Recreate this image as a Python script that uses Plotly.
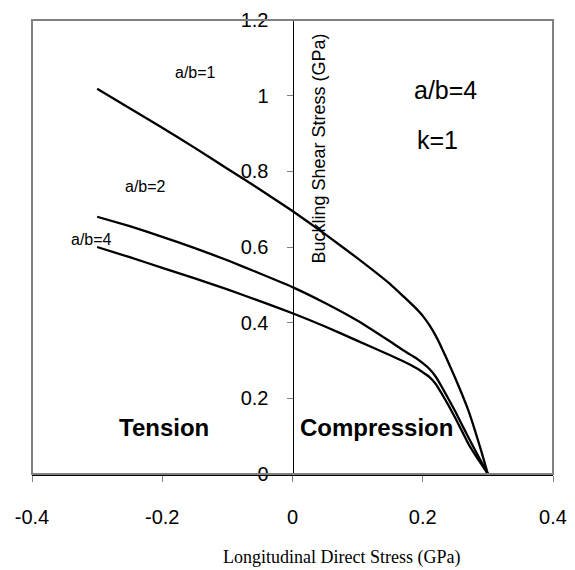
import plotly.graph_objects as go

stress_x = [-0.3, -0.25, -0.2, -0.15, -0.1, -0.05, 0.0, 0.05, 0.1, 0.15, 0.17, 0.19, 0.2, 0.21,
            0.22, 0.23, 0.24, 0.25, 0.26, 0.27, 0.28, 0.29, 0.3]
ab1 = [1.018, 0.967, 0.915, 0.862, 0.807, 0.752, 0.695, 0.634, 0.57, 0.502, 0.47, 0.437, 0.418, 0.394,
       0.365, 0.33, 0.292, 0.253, 0.212, 0.168, 0.116, 0.06, 0.0]
ab2 = [0.68, 0.655, 0.627, 0.597, 0.565, 0.53, 0.494, 0.452, 0.405, 0.35, 0.327, 0.306, 0.293, 0.278,
       0.257, 0.228, 0.197, 0.165, 0.131, 0.097, 0.064, 0.032, 0.0]
ab4 = [0.6, 0.573, 0.545, 0.517, 0.488, 0.457, 0.425, 0.39, 0.352, 0.314, 0.298, 0.28, 0.269, 0.257,
       0.238, 0.21, 0.18, 0.148, 0.114, 0.08, 0.052, 0.026, 0.0]

x_ticks = [-0.4, -0.2, 0, 0.2, 0.4]
x_tick_text = ["-0.4", "-0.2", "0", "0.2", "0.4"]
y_ticks = [0, 0.2, 0.4, 0.6, 0.8, 1.0, 1.2]
y_tick_text = ["0", "0.2", "0.4", "0.6", "0.8", "1", "1.2"]

SANS = "Liberation Sans, Arial, sans-serif"
SERIF = "Liberation Serif, Times New Roman, serif"

fig = go.Figure()
for ys in (ab1, ab2, ab4):
    fig.add_trace(go.Scatter(x=stress_x, y=ys, mode="lines",
                             line=dict(color="black", width=2.3, shape="spline", smoothing=0.4),
                             showlegend=False, hoverinfo="skip"))

annots = [
    dict(x=-0.149, y=1.06, text="a/b=1", size=16),
    dict(x=-0.226, y=0.761, text="a/b=2", size=16),
    dict(x=-0.308, y=0.621, text="a/b=4", size=16),
    dict(x=0.235, y=1.015, text="a/b=4", size=25),
    dict(x=0.223, y=0.883, text="k=1", size=25),
    dict(x=-0.198, y=0.124, text="<b>Tension</b>", size=24),
    dict(x=0.129, y=0.124, text="<b>Compression</b>", size=24),
]
for a in annots:
    fig.add_annotation(x=a["x"], y=a["y"], xref="x", yref="y", text=a["text"],
                       showarrow=False, font=dict(family=SANS, size=a["size"], color="black"),
                       xanchor="center", yanchor="middle")

fig.add_annotation(x=0.04, y=0.859, xref="x", yref="y", text="Buckling Shear Stress (GPa)",
                   textangle=-90, showarrow=False,
                   font=dict(family=SANS, size=18, color="black"),
                   xanchor="center", yanchor="middle")

fig.add_annotation(x=(341 - 32) / (553 - 32), y=-(557 - 474) / (474 - 20), xref="paper", yref="paper",
                   text="Longitudinal Direct Stress (GPa)", showarrow=False,
                   font=dict(family=SERIF, size=18, color="black"),
                   xanchor="center", yanchor="middle")

# plot frame
fig.add_shape(type="rect", xref="paper", yref="paper", x0=0, y0=0, x1=1, y1=1,
              line=dict(color="#808080", width=2), layer="above")

fig.update_layout(
    width=575, height=570,
    margin=dict(l=32, r=22, t=20, b=96),
    paper_bgcolor="white", plot_bgcolor="white",
    xaxis=dict(range=[-0.4, 0.4], tickvals=x_ticks, ticktext=x_tick_text,
               showgrid=False, zeroline=False, showline=True, linecolor="black", linewidth=2,
               ticks="outside", ticklen=6, tickcolor="#808080", tickwidth=1,
               ticklabelstandoff=18, automargin=False,
               tickfont=dict(family=SANS, size=20, color="black")),
    yaxis=dict(range=[0, 1.2], tickvals=y_ticks, ticktext=y_tick_text,
               showgrid=False, zeroline=False, showline=True, linecolor="black", linewidth=1,
               ticks="outside", ticklen=6, tickcolor="#808080", tickwidth=1,
               anchor="free", position=0.5, ticklabelstandoff=14, automargin=False,
               tickfont=dict(family=SANS, size=20, color="black")),
)

fig.write_html("out.html")
